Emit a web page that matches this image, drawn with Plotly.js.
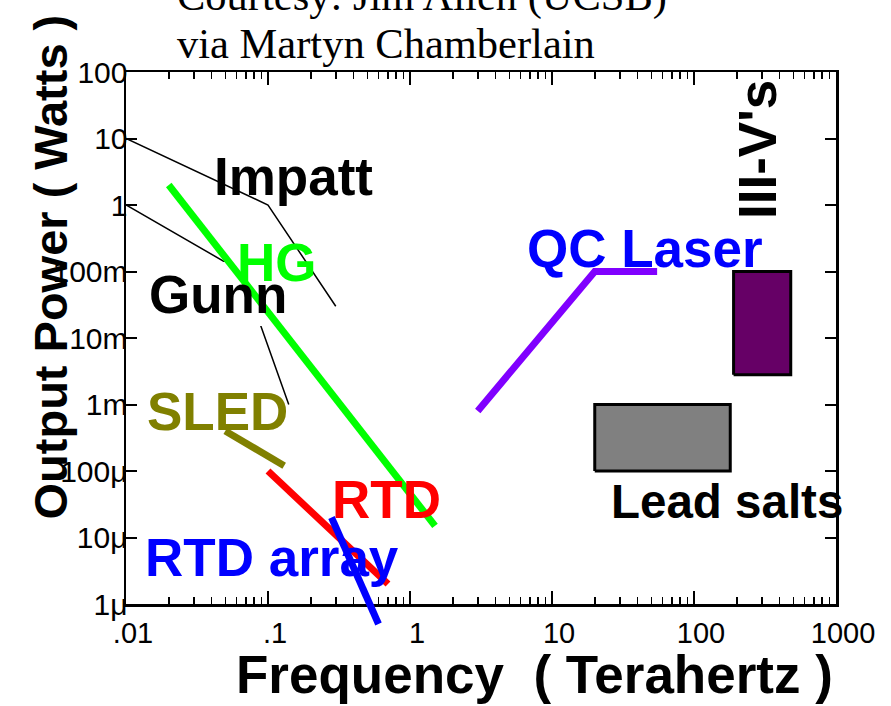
<!DOCTYPE html>
<html>
<head>
<meta charset="utf-8">
<script src="https://cdn.plot.ly/plotly-3.0.1.min.js"></script>
<style>
  html, body { margin: 0; padding: 0; background: #fff; }
  #chart { width: 891px; height: 706px; }
</style>
</head>
<body>
<div id="chart"></div>
<script>
// Axis ticks
const freqTicks = [0.01, 0.1, 1, 10, 100, 1000];
const freqTickText = ['.01', '.1', '1', '10', '100', '1000'];
const powerTicks = [1e-6, 1e-5, 1e-4, 1e-3, 1e-2, 1e-1, 1, 10, 100];
const powerTickText = ['1μ', '10μ', '100μ', '1m', '10m', '100m', '1', '10', '100'];

// Device curves: frequency (THz) vs output power (W)
const impattFreq = [0.01, 0.1, 0.3];
const impattPower = [10, 1, 0.03];
const gunnFreq = [0.01, 0.065, 0.14];
const gunnPower = [1, 0.1, 0.001];
const hgFreq = [0.02, 1.5];
const hgPower = [2, 1.5e-5];
const sledFreq = [0.05, 0.13];
const sledPower = [4e-4, 1.2e-4];
const rtdFreq = [0.1, 0.7];
const rtdPower = [1e-4, 2e-6];
const rtdArrayFreq = [0.28, 0.6];
const rtdArrayPower = [2e-5, 5e-7];
const qcFreq = [3, 20, 55];
const qcPower = [8e-4, 0.1, 0.1];

// Device regions: [low, high]
const leadSaltFreq = [20, 180];
const leadSaltPower = [1e-4, 1e-3];
const iiivFreq = [190, 480];
const iiivPower = [2.8e-3, 0.1];

// Geometry of the plotting area (pixels)
const W = 891, H = 706;
const M = { l: 126, r: 55, t: 72, b: 76 };
const plotW = W - M.l - M.r;          // 710
const plotH = H - M.t - M.b;          // 558
const frameH = 532;                   // visible frame height
const yDecades = 8;
const yDomainLow = (plotH - frameH) / plotH;

const SANS = 'Liberation Sans, Arial, Helvetica, sans-serif';
const SERIF = 'Liberation Serif, Times New Roman, serif';

// pixel -> paper helpers for text placement
const px = x => (x - M.l) / plotW;
const py = y => (M.t + plotH - y) / plotH;
// pixel -> data value on the overlay axes (for the label background)
const fx = x => Math.pow(10, -2 + (x - M.l) * 5 / plotW);
const fy = y => Math.pow(10, 2 - (y - M.t) * yDecades / frameH);

function rect(f, p) {
  return { x: [f[0], f[1], f[1], f[0], f[0]], y: [p[0], p[0], p[1], p[1], p[0]] };
}

function curve(x, y, color, width, axes) {
  return {
    type: 'scatter', mode: 'lines', x: x, y: y,
    xaxis: axes[0], yaxis: axes[1],
    line: { color: color, width: width },
    hoverinfo: 'skip', showlegend: false
  };
}

const XY = ['x', 'y'];
const X2Y2 = ['x2', 'y2'];

const lead = rect(leadSaltFreq, leadSaltPower);
const iiiv = rect(iiivFreq, iiivPower);

const traces = [
  curve(impattFreq, impattPower, '#000', 1.5, XY),
  curve(gunnFreq, gunnPower, '#000', 1.5, XY),
  curve(hgFreq, hgPower, '#00ff00', 7, X2Y2),
  curve(sledFreq, sledPower, '#808000', 7, X2Y2),
  curve(rtdFreq, rtdPower, '#ff0000', 7, X2Y2),
  curve(rtdArrayFreq, rtdArrayPower, '#0000ff', 7, X2Y2),
  curve(qcFreq, qcPower, '#8000ff', 7, X2Y2),
  Object.assign(curve(lead.x, lead.y, '#000', 3, X2Y2), { fill: 'toself', fillcolor: '#808080' }),
  Object.assign(curve(iiiv.x, iiiv.y, '#000', 3, X2Y2), { fill: 'toself', fillcolor: '#660066' })
];

function label(text, x, y, color, size, angle) {
  return {
    text: text, xref: 'paper', yref: 'paper', x: px(x), y: py(y),
    xanchor: 'center', yanchor: 'middle', showarrow: false,
    textangle: angle || 0,
    font: { family: SANS, size: size, color: color, weight: 700 }
  };
}

const annotations = [
  label('Impatt', 293.5, 176, '#000', 53),
  label('HG', 276.5, 262.5, '#00ff00', 53),
  label('Gunn', 217.5, 294, '#000', 53),
  label('SLED', 217, 411.5, '#808000', 53),
  label('RTD', 386.5, 499, '#ff0000', 53),
  label('RTD array', 272, 557, '#0000ff', 53),
  label('QC Laser', 644.5, 248, '#0000ff', 53),
  label('Lead salts', 727, 501.5, '#000', 47.5),
  label("III-V's", 757, 150, '#000', 53, -90),
  label('Output Power ( Watts )', 50, 267.5, '#000', 47, -90),
  label('Frequency\u00a0\u00a0( Terahertz )', 534.5, 674, '#000', 53),
  {
    text: 'Courtesy: Jim Allen (UCSB)', xref: 'paper', yref: 'paper',
    x: px(175), y: py(-4.3), xanchor: 'left', yanchor: 'middle', showarrow: false,
    font: { family: SERIF, size: 42.5, color: '#000' }
  },
  {
    text: 'via Martyn Chamberlain', xref: 'paper', yref: 'paper',
    x: px(175), y: py(43.7), xanchor: 'left', yanchor: 'middle', showarrow: false,
    font: { family: SERIF, size: 42.5, color: '#000' }
  }
];

// white backing behind the Gunn label, sitting above the thin curves
const shapes = [{
  type: 'rect', xref: 'x2', yref: 'y2', layer: 'below',
  x0: fx(147), x1: fx(289), y0: fy(326), y1: fy(262),
  fillcolor: '#fff', line: { width: 0 }
}];

const axisCommon = {
  type: 'log', showgrid: false, zeroline: false,
  showline: true, linecolor: '#000', linewidth: 2.5, mirror: 'ticks',
  ticks: 'inside', tickcolor: '#000', tickwidth: 2,
  tickmode: 'array'
};

const layout = {
  width: W, height: H, margin: M,
  paper_bgcolor: '#fff', plot_bgcolor: 'rgba(0,0,0,0)',
  showlegend: false, hovermode: false,
  xaxis: Object.assign({}, axisCommon, {
    range: [-2, 3], domain: [0, 1], anchor: 'y',
    tickvals: freqTicks, ticktext: freqTickText, ticklen: 13,
    tickfont: { family: SANS, size: 29, color: '#000' },
    ticklabelshift: 7, ticklabelstandoff: 2,
    minor: { dtick: 'D1', ticks: 'inside', ticklen: 7, tickwidth: 1.5, tickcolor: '#000', showgrid: false }
  }),
  yaxis: Object.assign({}, axisCommon, {
    range: [-6, 2], domain: [yDomainLow, 1], anchor: 'x',
    tickvals: powerTicks, ticktext: powerTickText, ticklen: 11,
    tickfont: { family: SANS, size: 30, color: '#000' },
    ticklabelstandoff: -10
  }),
  xaxis2: { type: 'log', range: [-2, 3], domain: [0, 1], anchor: 'y2', visible: false, showgrid: false },
  yaxis2: { type: 'log', range: [2 - yDecades * plotH / frameH, 2], domain: [0, 1], anchor: 'x2', visible: false, showgrid: false },
  annotations: annotations,
  shapes: shapes
};

Plotly.newPlot('chart', traces, layout, { staticPlot: true, displayModeBar: false });
</script>
</body>
</html>
